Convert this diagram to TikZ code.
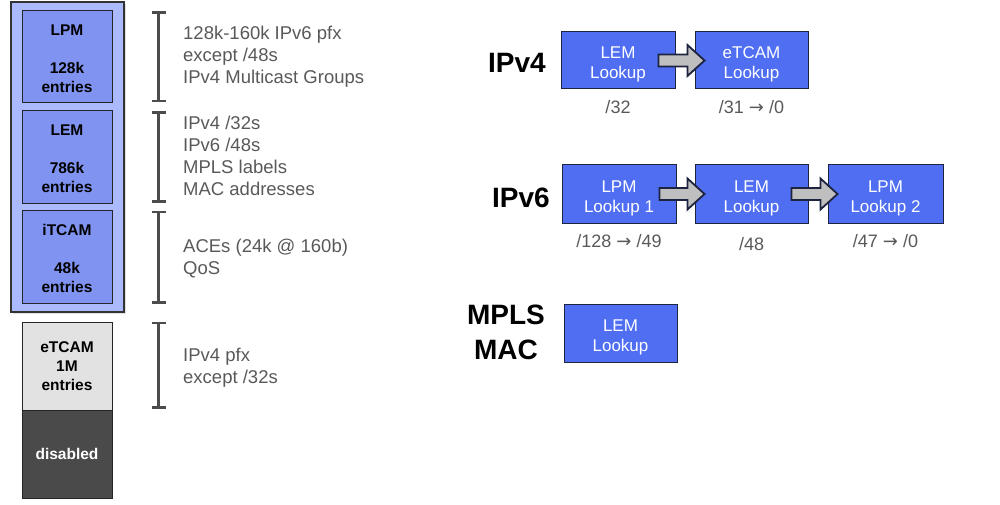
\documentclass[tikz,border=0pt]{standalone}
\usepackage{fontspec}
\setmainfont{Liberation Sans}
\newfontfamily\arrowfont{DejaVu Sans}
\usepackage{tikz}
\usetikzlibrary{calc,arrows.meta,shadows}

\definecolor{bankblue}{HTML}{AABAFC}
\definecolor{tblblue}{HTML}{8093F0}
\definecolor{lookblue}{HTML}{4F6EF2}
\definecolor{etcamgray}{HTML}{E2E2E2}
\definecolor{offgray}{HTML}{4A4A4A}
\definecolor{txtgray}{HTML}{595959}
\definecolor{edgenavy}{HTML}{1E2440}

\newcommand{\lenarrow}{{\arrowfont →}}

\tikzset{
	bank/.style={draw=black!80, line width=1.2pt, fill=bankblue, minimum width=113pt, minimum height=310pt, inner sep=0pt},
	tblbox/.style={draw=black!85, line width=1pt, fill=tblblue, minimum width=90pt, minimum height=92pt, inner sep=0pt, align=center, font=\fontsize{15.5}{19}\selectfont\bfseries},
	lookupbox/.style={draw=edgenavy, line width=1pt, fill=lookblue, text=white, minimum width=114pt, minimum height=57pt, inner sep=0pt, align=center, font=\fontsize{17}{20}\selectfont},
	bracket/.style={draw=black!70, line width=2.8pt, {Bar[width=14pt,line width=2.8pt]}-{Bar[width=14pt,line width=2.8pt]}},
	usetxt/.style={anchor=west, inner sep=0pt, align=left, text=txtgray, font=\fontsize{18.5}{22}\selectfont},
	proto/.style={inner sep=0pt, align=center, font=\fontsize{28}{35}\selectfont\bfseries},
	sublbl/.style={inner sep=0pt, text=txtgray, font=\fontsize{18}{22}\selectfont},
	fatarr/.style={draw=edgenavy, line width=1.8pt, fill=black!25, line join=miter}
}

\newcommand{\fatarrow}[2]{%
	\draw[fatarr] ($(#1.east)+(-17,-6)$) -- ($(#2.west |- #1.east)+(-7,-6)$) -- ($(#2.west |- #1.east)+(-7,-15.5)$) -- ($(#2.west |- #1.east)+(10,0)$) -- ($(#2.west |- #1.east)+(-7,15.5)$) -- ($(#2.west |- #1.east)+(-7,6)$) -- ($(#1.east)+(-17,6)$) -- cycle;}
\newcommand{\hstrut}[1]{\rule{0pt}{#1}}

\begin{document}
\begin{tikzpicture}[x=1pt,y=-1pt]
	\useasboundingbox (0,0) rectangle (1000,505);
	
	\node[bank, drop shadow={opacity=0.25, shadow xshift=2pt, shadow yshift=-2pt}] (bank) at (67.5,157) {};
	\node[tblbox] (lpm) at (67,57) {\hstrut{15pt}LPM\\[19pt]128k\\entries};
	\node[tblbox] (lem) at (67,157) {\hstrut{15pt}LEM\\[19pt]786k\\entries};
	\node[tblbox, minimum height=93pt] (itcam) at (67,256.5) {\hstrut{15pt}iTCAM\\[19pt]48k\\entries};
	\node[tblbox, fill=etcamgray, minimum height=88pt] (etcam) at (67,366) {eTCAM\\1M\\entries};
	\node[tblbox, fill=offgray, text=white, minimum height=88pt] (off) at (67,454) {disabled};
	
	\draw[bracket] ($(lpm.north east)+(46,1)$) -- ($(lpm.south east)+(46,-1)$);
	\draw[bracket] ($(lem.north east)+(46,1)$) -- ($(lem.south east)+(46,-1)$);
	\draw[bracket] ($(itcam.north east)+(46,1)$) -- ($(itcam.south east)+(46,0)$);
	\draw[bracket] ($(etcam.north east)+(46,0)$) -- ($(etcam.south east)+(46,-2)$);
	
	\node[usetxt] (lpmuse) at (183,57) {128k-160k IPv6 pfx\\except /48s\\IPv4 Multicast Groups};
	\node[usetxt] (lemuse) at (183,155.5) {IPv4 /32s\\IPv6 /48s\\MPLS labels\\MAC addresses};
	\node[usetxt] (itcamuse) at (183,259) {ACEs (24k @ 160b)\\QoS};
	\node[usetxt] (etcamuse) at (183,368) {IPv4 pfx\\except /32s};
	
	\node[proto] (v4) at (517,63) {IPv4};
	\node[lookupbox] (lem4) at (618,60.5) {\hstrut{20pt}LEM\\Lookup};
	\node[lookupbox, minimum width=113pt] (etcam4) at (751.5,60.5) {\hstrut{20pt}eTCAM\\Lookup};
	\node[sublbl] (lem4len) at ($(lem4.south)+(0,18)$) {/32};
	\node[sublbl] (etcam4len) at ($(etcam4.south)+(0,18)$) {/31 \lenarrow{} /0};
	\fatarrow{lem4}{etcam4}
	
	\node[proto] (v6) at (521,198) {IPv6};
	\node[lookupbox, minimum height=58pt] (lpm6a) at (619,194) {\hstrut{20pt}LPM\\Lookup 1};
	\node[lookupbox, minimum width=113pt, minimum height=58pt] (lem6) at (751.5,194) {\hstrut{20pt}LEM\\Lookup};
	\node[lookupbox, minimum width=115pt, minimum height=58pt] (lpm6b) at (885.5,194) {\hstrut{20pt}LPM\\Lookup 2};
	\node[sublbl] (lpm6alen) at ($(lpm6a.south)+(0,18)$) {/128 \lenarrow{} /49};
	\node[sublbl] (lem6len) at ($(lem6.south)+(0,21)$) {/48};
	\node[sublbl] (lpm6blen) at ($(lpm6b.south)+(0,18)$) {/47 \lenarrow{} /0};
	\fatarrow{lpm6a}{lem6}
	\fatarrow{lem6}{lpm6b}
	
	\node[proto] (mpls) at (506,332.5) {MPLS\\MAC};
	\node[lookupbox, minimum width=113pt, minimum height=58pt] (lem7) at (620.5,333) {\hstrut{20pt}LEM\\Lookup};
	
\end{tikzpicture}
\end{document}
